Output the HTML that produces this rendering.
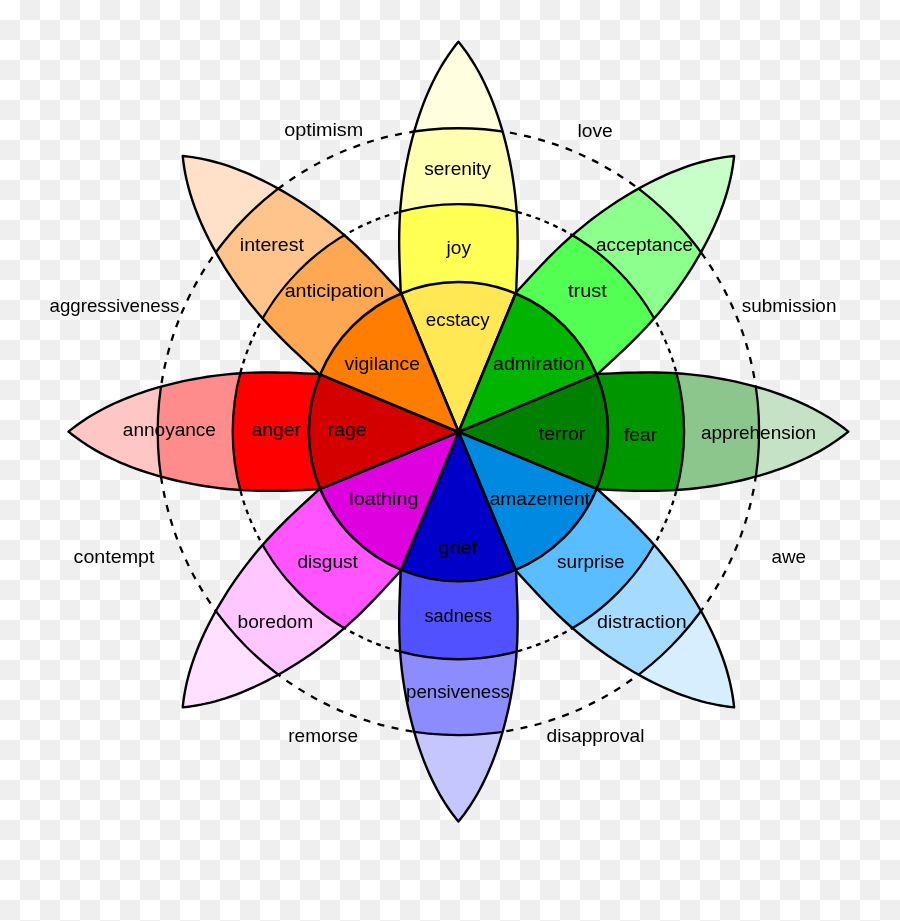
<!DOCTYPE html><html><head><meta charset="utf-8"><style>html,body{margin:0;padding:0;width:900px;height:921px;overflow:hidden;background:#fff}svg{display:block;will-change:transform}</style></head><body>
<svg width="900" height="921" viewBox="0 0 900 921">
<defs><pattern id="ck" width="40" height="40" patternUnits="userSpaceOnUse"><rect width="40" height="40" fill="#fff"/><rect x="20" width="20" height="20" fill="#efefef"/><rect y="20" width="20" height="20" fill="#efefef"/></pattern>
<path id="pt" d="M0,-389.9 L1.48,-388.07 L3.57,-385.41 L5.92,-382.29 L8.41,-378.83 L10.97,-375.11 L13.56,-371.15 L16.14,-366.99 L18.7,-362.65 L21.21,-358.14 L23.66,-353.48 L26.05,-348.67 L28.37,-343.73 L30.62,-338.67 L32.79,-333.49 L34.88,-328.2 L36.9,-322.8 L38.84,-317.29 L40.7,-311.69 L42.48,-306 L44.18,-300.21 L45.81,-294.34 L47.35,-288.38 L48.82,-282.34 L50.2,-276.23 L51.5,-270.03 L52.7,-263.76 L53.82,-257.42 L54.84,-251 L55.76,-244.52 L56.58,-237.97 L57.29,-231.35 L57.89,-224.67 L58.38,-217.93 L58.76,-211.12 L59.02,-204.26 L59.18,-197.33 L59.23,-190.35 L59.19,-183.31 L59.05,-176.22 L58.85,-169.07 L58.59,-161.86 L58.3,-154.6 L58,-147.3 L57.75,-139.94 L57.57,-132.53 L57.52,-125.07 L57.65,-117.56 L58.05,-110 L40,-80 L0,-40 L-40,-80 L-58.05,-110 L-57.65,-117.56 L-57.52,-125.07 L-57.57,-132.53 L-57.75,-139.94 L-58,-147.3 L-58.3,-154.6 L-58.59,-161.86 L-58.85,-169.07 L-59.05,-176.22 L-59.19,-183.31 L-59.23,-190.35 L-59.18,-197.33 L-59.02,-204.26 L-58.76,-211.12 L-58.38,-217.93 L-57.89,-224.67 L-57.29,-231.35 L-56.58,-237.97 L-55.76,-244.52 L-54.84,-251 L-53.82,-257.42 L-52.7,-263.76 L-51.5,-270.03 L-50.2,-276.23 L-48.82,-282.34 L-47.35,-288.38 L-45.81,-294.34 L-44.18,-300.21 L-42.48,-306 L-40.7,-311.69 L-38.84,-317.29 L-36.9,-322.8 L-34.88,-328.2 L-32.79,-333.49 L-30.62,-338.67 L-28.37,-343.73 L-26.05,-348.67 L-23.66,-353.48 L-21.21,-358.14 L-18.7,-362.65 L-16.14,-366.99 L-13.56,-371.15 L-10.97,-375.11 L-8.41,-378.83 L-5.92,-382.29 L-3.57,-385.41 L-1.48,-388.07 L-0,-389.9 Z"/>
<clipPath id="cp"><use href="#pt"/></clipPath>
</defs>
<rect width="900" height="921" fill="url(#ck)"/>
<g fill="none" stroke="#000" stroke-width="2.3">
<ellipse cx="458.4" cy="431.65" rx="225.7" ry="227.6" stroke-dasharray="4.8,4.81" stroke-dashoffset="6.86"/>
<ellipse cx="458.4" cy="431.65" rx="300.7" ry="303.4" stroke-dasharray="7,7.46" stroke-dashoffset="0.29"/>
</g>
<g transform="translate(458.4 431.65) rotate(0)">
<g clip-path="url(#cp)">
<use href="#pt" fill="#ffffe0"/>
<g transform="rotate(0)">
<ellipse rx="300.7" ry="303.4" fill="#ffffb1" stroke="#000" stroke-width="2.3"/>
<ellipse rx="225.7" ry="227.6" fill="#ffff54" stroke="#000" stroke-width="2.3"/>
</g>
</g>
<use href="#pt" fill="none" stroke="#000" stroke-width="2.4" stroke-linejoin="round"/>
</g>
<g transform="translate(458.4 431.65) rotate(45)">
<g clip-path="url(#cp)">
<use href="#pt" fill="#c8ffc8"/>
<g transform="rotate(-45)">
<ellipse rx="300.7" ry="303.4" fill="#8cff8c" stroke="#000" stroke-width="2.3"/>
<ellipse rx="225.7" ry="227.6" fill="#54ff54" stroke="#000" stroke-width="2.3"/>
</g>
</g>
<use href="#pt" fill="none" stroke="#000" stroke-width="2.4" stroke-linejoin="round"/>
</g>
<g transform="translate(458.4 431.65) rotate(90)">
<g clip-path="url(#cp)">
<use href="#pt" fill="#c6e2c6"/>
<g transform="rotate(-90)">
<ellipse rx="300.7" ry="303.4" fill="#8cc68c" stroke="#000" stroke-width="2.3"/>
<ellipse rx="225.7" ry="227.6" fill="#009600" stroke="#000" stroke-width="2.3"/>
</g>
</g>
<use href="#pt" fill="none" stroke="#000" stroke-width="2.4" stroke-linejoin="round"/>
</g>
<g transform="translate(458.4 431.65) rotate(135)">
<g clip-path="url(#cp)">
<use href="#pt" fill="#d7eeff"/>
<g transform="rotate(-135)">
<ellipse rx="300.7" ry="303.4" fill="#a5dbff" stroke="#000" stroke-width="2.3"/>
<ellipse rx="225.7" ry="227.6" fill="#59bdff" stroke="#000" stroke-width="2.3"/>
</g>
</g>
<use href="#pt" fill="none" stroke="#000" stroke-width="2.4" stroke-linejoin="round"/>
</g>
<g transform="translate(458.4 431.65) rotate(180)">
<g clip-path="url(#cp)">
<use href="#pt" fill="#c6c6ff"/>
<g transform="rotate(-180)">
<ellipse rx="300.7" ry="303.4" fill="#8c8cff" stroke="#000" stroke-width="2.3"/>
<ellipse rx="225.7" ry="227.6" fill="#5151ff" stroke="#000" stroke-width="2.3"/>
</g>
</g>
<use href="#pt" fill="none" stroke="#000" stroke-width="2.4" stroke-linejoin="round"/>
</g>
<g transform="translate(458.4 431.65) rotate(225)">
<g clip-path="url(#cp)">
<use href="#pt" fill="#ffe0ff"/>
<g transform="rotate(-225)">
<ellipse rx="300.7" ry="303.4" fill="#ffc6ff" stroke="#000" stroke-width="2.3"/>
<ellipse rx="225.7" ry="227.6" fill="#ff54ff" stroke="#000" stroke-width="2.3"/>
</g>
</g>
<use href="#pt" fill="none" stroke="#000" stroke-width="2.4" stroke-linejoin="round"/>
</g>
<g transform="translate(458.4 431.65) rotate(270)">
<g clip-path="url(#cp)">
<use href="#pt" fill="#ffc6c6"/>
<g transform="rotate(-270)">
<ellipse rx="300.7" ry="303.4" fill="#ff8c8c" stroke="#000" stroke-width="2.3"/>
<ellipse rx="225.7" ry="227.6" fill="#ff0000" stroke="#000" stroke-width="2.3"/>
</g>
</g>
<use href="#pt" fill="none" stroke="#000" stroke-width="2.4" stroke-linejoin="round"/>
</g>
<g transform="translate(458.4 431.65) rotate(315)">
<g clip-path="url(#cp)">
<use href="#pt" fill="#ffe0c8"/>
<g transform="rotate(-315)">
<ellipse rx="300.7" ry="303.4" fill="#ffc48c" stroke="#000" stroke-width="2.3"/>
<ellipse rx="225.7" ry="227.6" fill="#ffa854" stroke="#000" stroke-width="2.3"/>
</g>
</g>
<use href="#pt" fill="none" stroke="#000" stroke-width="2.4" stroke-linejoin="round"/>
</g>
<path d="M458.6,432 L401.15,293.44 A149.6,149.6 0 0 1 515.65,293.44 Z" fill="#ffe854" stroke="#000" stroke-width="2.6" stroke-linejoin="round"/>
<path d="M458.6,432 L515.65,293.44 A149.6,149.6 0 0 1 596.61,374.4 Z" fill="#00b400" stroke="#000" stroke-width="2.6" stroke-linejoin="round"/>
<path d="M458.6,432 L596.61,374.4 A149.6,149.6 0 0 1 596.61,488.9 Z" fill="#008000" stroke="#000" stroke-width="2.6" stroke-linejoin="round"/>
<path d="M458.6,432 L596.61,488.9 A149.6,149.6 0 0 1 515.65,569.86 Z" fill="#0089e0" stroke="#000" stroke-width="2.6" stroke-linejoin="round"/>
<path d="M458.6,432 L515.65,569.86 A149.6,149.6 0 0 1 401.15,569.86 Z" fill="#0000c8" stroke="#000" stroke-width="2.6" stroke-linejoin="round"/>
<path d="M458.6,432 L401.15,569.86 A149.6,149.6 0 0 1 320.19,488.9 Z" fill="#de00de" stroke="#000" stroke-width="2.6" stroke-linejoin="round"/>
<path d="M458.6,432 L320.19,488.9 A149.6,149.6 0 0 1 320.19,374.4 Z" fill="#d40000" stroke="#000" stroke-width="2.6" stroke-linejoin="round"/>
<path d="M458.6,432 L320.19,374.4 A149.6,149.6 0 0 1 401.15,293.44 Z" fill="#ff7d00" stroke="#000" stroke-width="2.6" stroke-linejoin="round"/>
<g font-family="Liberation Sans, sans-serif" font-size="17.5" fill="#000">
<text transform="translate(284.16 136.4) scale(1.1304 1)">optimism</text>
<text transform="translate(577.4 136.8) scale(1.1014 1)">love</text>
<text transform="translate(49.51 311.8) scale(1.0688 1)">aggressiveness</text>
<text transform="translate(741.78 311.9) scale(1.0817 1)">submission</text>
<text transform="translate(73.56 562.6) scale(1.1253 1)">contempt</text>
<text transform="translate(771.5 562.5) scale(1.0791 1)">awe</text>
<text transform="translate(288.22 741.6) scale(1.0874 1)">remorse</text>
<text transform="translate(546.48 741.7) scale(1.0960 1)">disapproval</text>
<text transform="translate(424.17 174.9) scale(1.0910 1)">serenity</text>
<text transform="translate(446.58 253.5) scale(1.0945 1)">joy</text>
<text transform="translate(425.8 325.5) scale(1.0762 1)">ecstacy</text>
<text transform="translate(595.89 250.9) scale(1.0843 1)">acceptance</text>
<text transform="translate(567.9 297.05) scale(1.1443 1)">trust</text>
<text transform="translate(492.96 370.05) scale(1.1228 1)">admiration</text>
<text transform="translate(700.99 438.95) scale(1.0857 1)">apprehension</text>
<text transform="translate(624.01 441.05) scale(1.0973 1)">fear</text>
<text transform="translate(538.76 440.25) scale(1.1126 1)">terror</text>
<text transform="translate(597.07 628.1) scale(1.1223 1)">distraction</text>
<text transform="translate(557.08 568.1) scale(1.0855 1)">surprise</text>
<text transform="translate(489.68 504.95) scale(1.0976 1)">amazement</text>
<text transform="translate(406.09 698) scale(1.0675 1)">pensiveness</text>
<text transform="translate(424.4 621.7) scale(1.0407 1)">sadness</text>
<text transform="translate(438.35 553.9) scale(1.1429 1)">grief</text>
<text transform="translate(237.55 628.4) scale(1.0957 1)">boredom</text>
<text transform="translate(297.39 568.4) scale(1.0925 1)">disgust</text>
<text transform="translate(349.27 505.2) scale(1.1285 1)">loathing</text>
<text transform="translate(122.79 436.15) scale(1.0888 1)">annoyance</text>
<text transform="translate(251.68 436.15) scale(1.0994 1)">anger</text>
<text transform="translate(327.79 436.15) scale(1.1066 1)">rage</text>
<text transform="translate(239.78 251) scale(1.1197 1)">interest</text>
<text transform="translate(284.66 296.8) scale(1.1244 1)">anticipation</text>
<text transform="translate(344.6 370.25) scale(1.1079 1)">vigilance</text>
</g>
</svg></body></html>
